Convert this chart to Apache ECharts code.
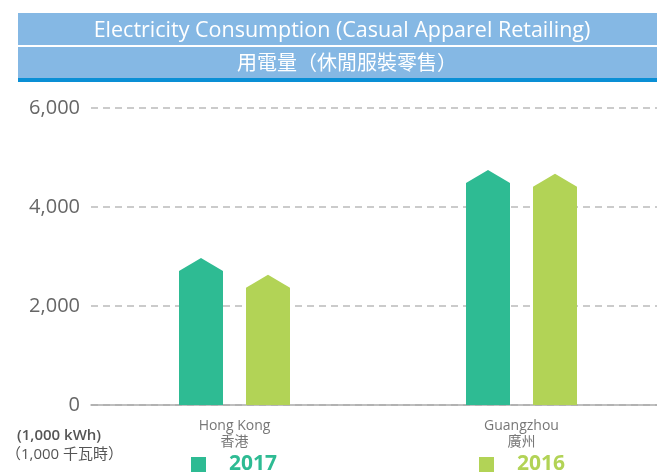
<!DOCTYPE html>
<html>
<head>
<meta charset="utf-8">
<script src="https://cdn.jsdelivr.net/npm/echarts@6/dist/echarts.min.js"></script>
<style>
  html, body { margin: 0; padding: 0; background: #fff; }
  #chart { width: 657px; height: 473px; }
</style>
</head>
<body>
<div id="chart"></div>
<script>
var cities = ["Hong Kong\n香港", "Guangzhou\n廣州"];
var years = ["2017", "2016"];
var values2017 = [2970, 4750];
var values2016 = [2630, 4670];
var yTicks = [0, 2000, 4000, 6000];

var colors = { "2017": "#2ebb93", "2016": "#b2d356" };
var font = "'Open Sans', 'Noto Sans', 'Noto Sans CJK TC', sans-serif";

// pentagon shaped bar: flat sides with a pointed roof
function arrowBar(offset) {
  return function (params, api) {
    var base = api.coord([api.value(0), 0]);
    var top = api.coord([api.value(0), api.value(1)]);
    var x = base[0] + offset;
    var w = 44, h = 13;
    return {
      type: "polygon",
      shape: {
        points: [
          [x - w / 2, top[1] + h],
          [x, top[1]],
          [x + w / 2, top[1] + h],
          [x + w / 2, base[1]],
          [x - w / 2, base[1]]
        ]
      },
      style: api.style()
    };
  };
}

var chart = echarts.init(document.getElementById("chart"));
chart.setOption({
  animation: false,
  textStyle: { fontFamily: font },
  graphic: [
    { type: "rect", left: 18, top: 13, shape: { width: 645, height: 32 }, style: { fill: "#85b8e4" }, z: -1 },
    { type: "rect", left: 18, top: 47, shape: { width: 645, height: 31 }, style: { fill: "#85b8e4" }, z: -1 },
    { type: "rect", left: 18, top: 78, shape: { width: 645, height: 4 }, style: { fill: "#0a8fd5" }, z: -1 },
    { type: "text", left: 17, top: 428, style: { text: "(1,000 kWh)", fill: "#555", font: "600 15px " + font } },
    { type: "text", left: 6, top: 447, style: { text: "（1,000 千瓦時）", fill: "#555", font: "15px " + font } }
  ],
  title: [
    {
      text: "Electricity Consumption (Casual Apparel Retailing)",
      left: 337, top: 15, textAlign: "center",
      textStyle: { color: "#fff", fontSize: 21.5, fontWeight: "normal", fontFamily: font }
    },
    {
      text: "用電量（休閒服裝零售）",
      left: 342, top: 49, textAlign: "center",
      textStyle: { color: "#fff", fontSize: 20, fontWeight: "normal", fontFamily: font }
    }
  ],
  legend: [
    {
      data: [{ name: "2017", textStyle: { color: colors["2017"] } }],
      left: 191, top: 454, padding: 0, itemWidth: 15, itemHeight: 15, icon: "rect",
      textStyle: { fontSize: 21, fontWeight: "bold", padding: [0, 0, 0, 18] }
    },
    {
      data: [{ name: "2016", textStyle: { color: colors["2016"] } }],
      left: 479, top: 454, padding: 0, itemWidth: 15, itemHeight: 15, icon: "rect",
      textStyle: { fontSize: 21, fontWeight: "bold", padding: [0, 0, 0, 18] }
    }
  ],
  grid: { left: 91, width: 574, top: 108, bottom: 68, outerBoundsMode: "none" },
  xAxis: {
    type: "category",
    data: cities,
    axisLine: { lineStyle: { color: "#aaa", width: 1.5 } },
    axisTick: { show: false },
    axisLabel: { color: "#777", fontSize: 14, lineHeight: 16, margin: 13 }
  },
  yAxis: {
    type: "value",
    min: yTicks[0],
    max: yTicks[yTicks.length - 1],
    interval: 2000,
    axisLine: { show: false },
    axisTick: { show: false },
    axisLabel: {
      color: "#666", fontSize: 20, margin: 11,
      formatter: function (v) { return v.toLocaleString("en-US"); }
    },
    splitLine: { lineStyle: { color: "#bbb", type: [7, 5], width: 1.5 } }
  },
  series: [
    {
      name: years[0], type: "custom", renderItem: arrowBar(-33.5),
      itemStyle: { color: colors["2017"] },
      data: values2017.map(function (v, i) { return [i, v]; })
    },
    {
      name: years[1], type: "custom", renderItem: arrowBar(33.5),
      itemStyle: { color: colors["2016"] },
      data: values2016.map(function (v, i) { return [i, v]; })
    }
  ]
});
</script>
</body>
</html>
